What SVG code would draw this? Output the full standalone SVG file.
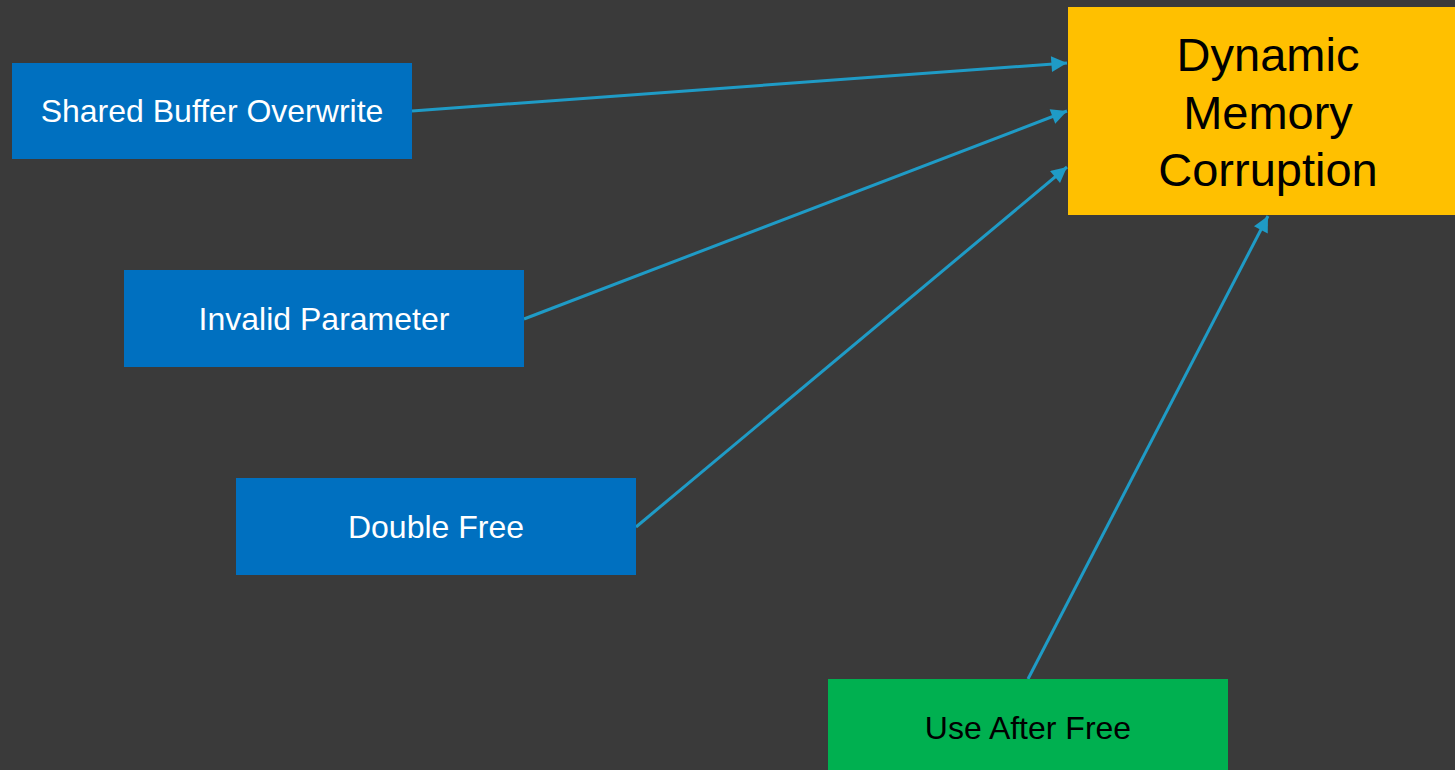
<svg xmlns="http://www.w3.org/2000/svg" width="1455" height="770" viewBox="0 0 1455 770">
  <style>
    .node-blue { fill: #0070c0; }
    .node-green { fill: #00b050; }
    .node-gold { fill: #ffc000; }
    .label { font-family: "Liberation Sans", Arial, sans-serif; text-anchor: middle; }
    .label-white { fill: #ffffff; font-size: 32px; }
    .label-black { fill: #000000; font-size: 32px; }
    .label-big { fill: #000000; font-size: 47px; }
    .link { stroke: #1f9bc6; stroke-width: 3; fill: none; marker-end: url(#arrow); }
  </style>
  <defs>
    <marker id="arrow" viewBox="0 0 10 10" refX="10" refY="5" markerWidth="5.5" markerHeight="5.2" orient="auto" markerUnits="strokeWidth">
      <path d="M0,0 L10,5 L0,10 z" fill="#1f9bc6"/>
    </marker>
  </defs>

  <rect x="0" y="0" width="1455" height="770" fill="#3a3a3a"/>

  <g id="connectors">
    <line class="link" x1="412" y1="111" x2="1067" y2="63"/>
    <line class="link" x1="524" y1="319" x2="1067" y2="111"/>
    <line class="link" x1="636" y1="527" x2="1067" y2="167"/>
    <line class="link" x1="1028" y1="679" x2="1268" y2="216"/>
  </g>

  <g id="dynamic-memory-corruption">
    <rect class="node-gold" x="1068" y="7" width="400" height="208"/>
    <text class="label label-big" x="1268" y="71">Dynamic</text>
    <text class="label label-big" x="1268" y="129">Memory</text>
    <text class="label label-big" x="1268" y="186">Corruption</text>
  </g>

  <g id="shared-buffer-overwrite">
    <rect class="node-blue" x="12" y="63" width="400" height="96"/>
    <text class="label label-white" x="212" y="122">Shared Buffer Overwrite</text>
  </g>

  <g id="invalid-parameter">
    <rect class="node-blue" x="124" y="270" width="400" height="97"/>
    <text class="label label-white" x="324" y="330">Invalid Parameter</text>
  </g>

  <g id="double-free">
    <rect class="node-blue" x="236" y="478" width="400" height="97"/>
    <text class="label label-white" x="436" y="538">Double Free</text>
  </g>

  <g id="use-after-free">
    <rect class="node-green" x="828" y="679" width="400" height="97"/>
    <text class="label label-black" x="1028" y="739">Use After Free</text>
  </g>
</svg>
